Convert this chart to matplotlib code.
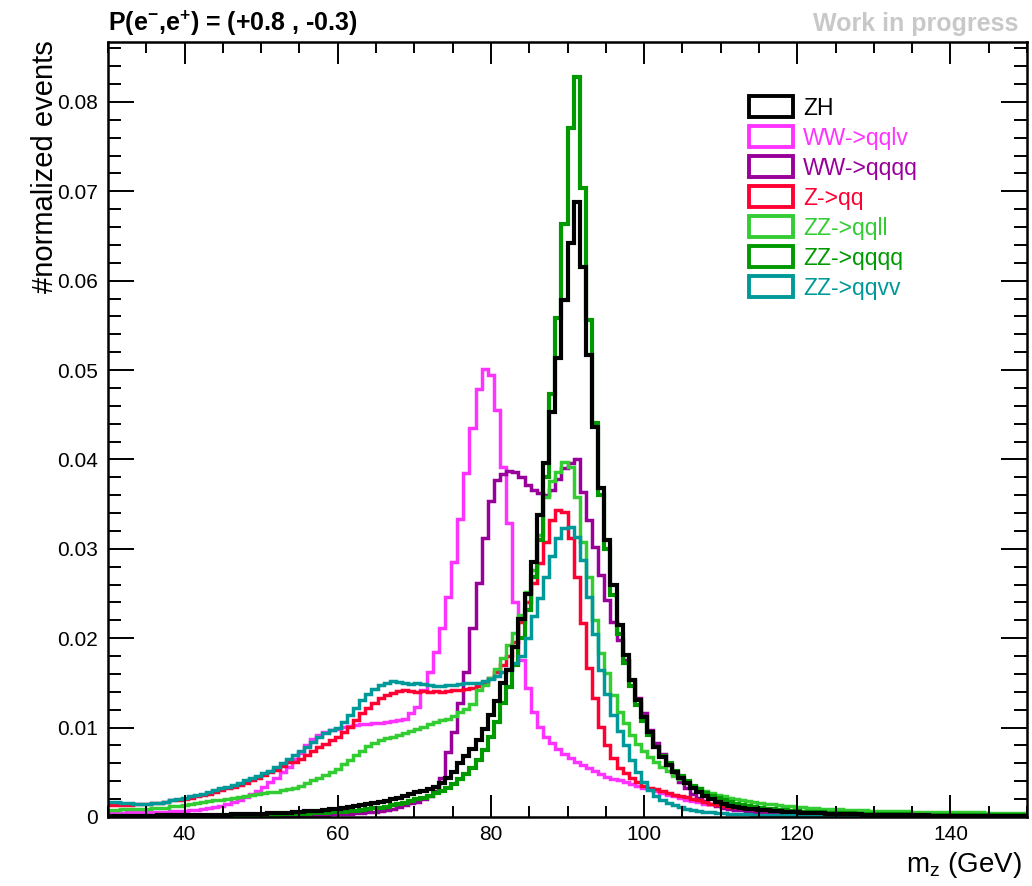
import numpy as np
import matplotlib
matplotlib.use("Agg")
import matplotlib.pyplot as plt
from matplotlib.patches import Rectangle
from matplotlib.ticker import MultipleLocator, FuncFormatter

plt.rcParams['font.family'] = ['Liberation Sans', 'DejaVu Sans']
plt.rcParams['mathtext.fontset'] = 'custom'
plt.rcParams['mathtext.rm'] = 'Liberation Sans'
plt.rcParams['mathtext.it'] = 'Liberation Sans:italic'
plt.rcParams['mathtext.bf'] = 'Liberation Sans:bold'

# binning: 150 bins of 0.8 GeV between 30 and 150
edges = np.linspace(30, 150, 151)

# bin contents in units of 1e-4
zh = [
    1.2, 1.2, 1.3, 1.3, 1.4, 1.4, 1.5, 1.6, 1.7, 1.8,
    1.9, 2.0, 2.0, 2.1, 2.2, 2.3, 2.4, 2.5, 2.6, 2.7,
    2.8, 3.0, 3.2, 3.4, 3.6, 3.9, 4.1, 4.4, 4.7, 5.0,
    5.4, 5.8, 6.2, 6.7, 7.2, 7.8, 8.4, 9.1, 9.9, 10.7,
    11.8, 12.9, 14.1, 15.4, 16.8, 18.3, 19.9, 21.7, 23.6, 25.6,
    27.6, 29.6, 31.8, 34.0, 38.5, 44, 50, 60, 68, 76,
    86, 98, 114, 130, 150, 165, 190, 222, 250, 285,
    338, 396, 453, 514, 578, 642, 688, 615, 517, 436,
    368, 310, 260, 215, 181, 153, 131, 112, 95, 78,
    67, 58, 50, 44, 38, 33, 28, 24, 20, 17,
    14.5, 12.5, 11.2, 10.2, 9.4, 8.7, 8.0, 7.4, 6.9, 6.4,
    6.0, 5.6, 5.2, 4.9, 4.6, 4.3, 4.0, 3.8, 3.6, 3.4,
    3.2, 3.0, 2.9, 2.7, 2.6, 2.4, 2.3, 2.2, 2.1, 2.0,
    1.9, 1.8, 1.7, 1.7, 1.6, 1.5, 1.5, 1.4, 1.4, 1.3,
    1.3, 1.2, 1.2, 1.1, 1.1, 1.0, 1.0, 1.0, 0.9, 0.9,
]
ww_qqlv = [
    5.0, 5.0, 5.0, 5.1, 5.1, 5.2, 5.3, 5.4, 5.5, 5.6,
    6.2, 6.6, 7.0, 7.6, 8.3, 9.2, 10.2, 11.4, 12.8, 14.5,
    16.5, 19, 22, 25.5, 29.5, 34, 39, 44, 50, 56,
    65, 72, 80, 87, 92, 95, 97, 99, 101, 102,
    103, 104, 104, 105, 105, 106, 107, 108, 110, 116,
    123, 142, 162, 185, 211, 246, 285, 333, 385, 435,
    479, 501, 494, 455, 392, 329, 240, 176, 144, 118,
    101, 90, 83, 76, 71, 66, 62, 58, 55, 52,
    48, 45, 43, 41, 39, 37, 35, 33, 31, 29,
    27, 25, 23, 21, 19.5, 18, 16.5, 15, 14, 13,
    12, 11, 10.3, 9.6, 9.0, 8.4, 7.9, 7.4, 7.0, 6.6,
    6.2, 5.9, 5.6, 5.3, 5.0, 4.8, 4.6, 4.4, 4.2, 4.0,
    3.8, 3.7, 3.5, 3.4, 3.3, 3.2, 3.1, 3.0, 2.9, 2.8,
    2.7, 2.6, 2.5, 2.5, 2.4, 2.3, 2.3, 2.2, 2.2, 2.1,
    2.1, 2.0, 2.0, 1.9, 1.9, 1.8, 1.8, 1.8, 1.7, 1.7,
]
ww_qqqq = [
    0.3, 0.3, 0.3, 0.3, 0.3, 0.4, 0.4, 0.4, 0.4, 0.4,
    0.5, 0.5, 0.5, 0.6, 0.6, 0.6, 0.7, 0.7, 0.8, 0.8,
    0.9, 0.9, 1.0, 1.1, 1.1, 1.2, 1.3, 1.4, 1.5, 1.6,
    1.7, 1.8, 2.0, 2.2, 2.4, 2.6, 2.9, 3.2, 3.5, 3.9,
    4.3, 4.8, 5.4, 6.1, 7.0, 8.0, 9.3, 11, 13, 15.5,
    17, 20, 24, 29, 44, 73, 95, 127, 162, 211,
    262, 312, 353, 377, 384, 387, 386, 380, 371, 366,
    363, 360, 366, 378, 390, 396, 400, 364, 332, 302,
    271, 243, 218, 198, 176, 153, 133, 116, 97, 83,
    70, 58, 48, 39, 32, 26, 21, 17.5, 14.5, 12,
    10.5, 9.2, 8.2, 7.3, 6.6, 6.0, 5.4, 4.9, 4.5, 4.1,
    3.8, 3.5, 3.2, 3.0, 2.8, 2.6, 2.4, 2.2, 2.1, 2.0,
    1.9, 1.8, 1.7, 1.6, 1.5, 1.4, 1.4, 1.3, 1.2, 1.2,
    1.1, 1.1, 1.0, 1.0, 1.0, 0.9, 0.9, 0.9, 0.8, 0.8,
    0.8, 0.8, 0.7, 0.7, 0.7, 0.7, 0.6, 0.6, 0.6, 0.6,
]
z_qq = [
    13, 13, 13, 13.5, 14, 14.5, 15, 15.5, 16, 17,
    18.5, 19.5, 20.5, 21.5, 23, 24.5, 26, 28, 30, 32,
    34, 36, 38.5, 41, 44, 47, 50, 53, 57, 61,
    62, 65, 69, 74, 78, 82, 86, 90, 95, 101,
    109, 116, 122, 128, 133, 136, 139, 141, 142, 141,
    140, 141, 140, 141, 140, 141, 142, 142, 143, 144,
    146, 150, 155, 162, 170, 180, 196, 218, 240, 262,
    284, 308, 332, 343, 341, 312, 268, 217, 167, 133,
    101, 80, 66, 55, 49, 44, 39, 35, 33, 31,
    29, 27, 25, 23.5, 22, 20.5, 18.5, 16.5, 15, 13.5,
    12.5, 11.5, 10.8, 10.2, 9.6, 9.0, 8.5, 8.0, 7.5, 7.0,
    6.6, 6.2, 5.8, 5.5, 5.2, 4.9, 4.6, 4.4, 4.2, 4.0,
    3.8, 3.6, 3.4, 3.3, 3.1, 3.0, 2.9, 2.8, 2.7, 2.6,
    2.5, 2.4, 2.3, 2.3, 2.2, 2.1, 2.1, 2.0, 2.0, 1.9,
    1.9, 1.8, 1.8, 1.7, 1.7, 1.7, 1.6, 1.6, 1.6, 1.5,
]
zz_qqll = [
    8, 8.2, 8.4, 8.6, 8.8, 9, 9.3, 9.6, 10, 10.4,
    12, 12.8, 13.6, 14.5, 15.5, 16.5, 17.5, 18.5, 19.5, 20.5,
    21.5, 22.5, 23.5, 24.5, 25.5, 26.5, 27.5, 28.5, 30, 31.5,
    33, 35, 38, 41, 44, 47, 50, 54, 59, 64,
    69, 74, 79, 83, 86, 88, 90, 92, 94, 96,
    99, 101, 104, 106, 108, 110, 113, 117, 121, 126,
    142, 148, 156, 166, 178, 192, 206, 226, 252, 276,
    316, 358, 376, 386, 397, 392, 358, 308, 268, 220,
    183, 161, 136, 117, 105, 92, 82, 74, 67, 61,
    56, 51, 46, 42, 38, 35, 32, 29, 27, 25,
    23, 21.5, 20, 18.8, 17.7, 16.7, 15.8, 15, 14.3, 13.6,
    12.5, 11.8, 11.2, 10.7, 10.2, 9.8, 9.4, 9.0, 8.7, 8.4,
    8.1, 7.9, 7.6, 7.4, 7.2, 7.0, 6.8, 6.6, 6.5, 6.3,
    6.2, 6.1, 6.0, 5.9, 5.8, 5.7, 5.6, 5.5, 5.4, 5.3,
    5.2, 5.1, 5.1, 5.0, 5.0, 4.9, 4.9, 4.8, 4.8, 4.7,
]
zz_qqqq = [
    0.6, 0.6, 0.6, 0.7, 0.7, 0.7, 0.8, 0.8, 0.9, 0.9,
    1.0, 1.0, 1.1, 1.1, 1.2, 1.3, 1.3, 1.4, 1.5, 1.6,
    1.7, 1.8, 1.9, 2.0, 2.2, 2.3, 2.5, 2.7, 2.9, 3.1,
    3.3, 3.5, 3.8, 4.1, 4.4, 4.8, 5.2, 5.6, 6.1, 6.6,
    7.2, 7.9, 8.7, 9.6, 10.6, 11.7, 13.0, 14.4, 16.0, 17.7,
    19.6, 21.7, 24.0, 26.6, 29.5, 33, 37, 42, 48, 55,
    64, 75, 89, 106, 127, 145, 170, 200, 232, 268,
    310, 380, 473, 558, 663, 771, 828, 704, 556, 441,
    360, 300, 248, 205, 172, 146, 125, 107, 92, 78,
    68, 60, 52, 46, 40, 35, 31, 27, 24, 21,
    18.5, 16.5, 14.7, 13.2, 12.0, 11.0, 10.0, 9.2, 8.5, 7.9,
    7.4, 6.9, 6.5, 6.1, 5.7, 5.4, 5.1, 4.8, 4.6, 4.4,
    4.2, 4.0, 3.8, 3.6, 3.5, 3.3, 3.2, 3.1, 3.0, 2.9,
    2.8, 2.7, 2.6, 2.5, 2.5, 2.4, 2.3, 2.3, 2.2, 2.2,
    2.1, 2.1, 2.0, 2.0, 1.9, 1.9, 1.9, 1.8, 1.8, 1.8,
]
zz_qqvv = [
    17, 16.5, 16, 15.5, 15, 15, 15, 15.5, 16, 17,
    18.5, 20, 21.5, 23, 24.5, 26, 28, 30, 32, 34,
    36, 38.5, 41, 43.5, 46, 49, 52, 56, 60, 65,
    69, 74, 78, 84, 89, 94, 97, 100, 106, 114,
    122, 131, 138, 143, 148, 150, 152, 151, 150, 149,
    150, 149, 148, 147, 147, 148, 148, 149, 150, 150,
    150, 152, 154, 158, 162, 166, 172, 180, 200, 225,
    245, 268, 292, 312, 323, 324, 313, 288, 246, 205,
    165, 138, 114, 96, 80, 64, 50, 39, 30, 24,
    19, 15.5, 13, 11, 9.5, 8.2, 7.0, 6.0, 5.2, 4.5,
    4.0, 3.6, 3.3, 3.0, 2.8, 2.6, 2.4, 2.2, 2.1, 2.0,
    1.9, 1.8, 1.7, 1.6, 1.5, 1.5, 1.4, 1.4, 1.3, 1.3,
    1.2, 1.2, 1.2, 1.1, 1.1, 1.1, 1.0, 1.0, 1.0, 1.0,
    0.9, 0.9, 0.9, 0.9, 0.9, 0.8, 0.8, 0.8, 0.8, 0.8,
    0.8, 0.8, 0.7, 0.7, 0.7, 0.7, 0.7, 0.7, 0.7, 0.7,
]

labels = ["ZH", "WW->qqlv", "WW->qqqq", "Z->qq", "ZZ->qqll", "ZZ->qqqq", "ZZ->qqvv"]
series = [zh, ww_qqlv, ww_qqqq, z_qq, zz_qqll, zz_qqqq, zz_qqvv]
colors = ["#000000", "#ff33ff", "#990099", "#ff0033", "#33cc33", "#009900", "#009999"]
widths = [3.0, 2.5, 2.5, 2.5, 2.5, 3.0, 2.5]

fig = plt.figure(figsize=(10.32, 8.86), dpi=100)
ax = fig.add_axes([108 / 1032, 69 / 886, 919 / 1032, 775 / 886])

# draw the others first, ZH on top
order = [1, 2, 3, 4, 5, 6, 0]
for i in order:
    vals = np.array(series[i]) * 1e-4
    ax.stairs(vals, edges, baseline=None, color=colors[i], lw=widths[i], joinstyle='miter')

ax.set_xlim(30, 150)
ax.set_ylim(0, 0.0867)

ax.xaxis.set_major_locator(MultipleLocator(20))
ax.xaxis.set_minor_locator(MultipleLocator(5))
ax.yaxis.set_major_locator(MultipleLocator(0.01))
ax.yaxis.set_minor_locator(MultipleLocator(0.002))
ax.yaxis.set_major_formatter(FuncFormatter(lambda v, p: "0" if abs(v) < 1e-9 else f"{v:.2f}"))

ax.tick_params(which='both', direction='in', top=True, right=True, width=1.4, labelsize=15)
ax.tick_params(axis='x', which='major', length=16, pad=6)
ax.tick_params(axis='x', which='minor', length=8)
ax.tick_params(axis='y', which='major', length=19, pad=7)
ax.tick_params(axis='y', which='minor', length=9.5)
for s in ax.spines.values():
    s.set_linewidth(1.8)

fig.text(0.044, (886 - 40) / 886, "#normalized events", rotation=90,
         ha='center', va='top', fontsize=21)
fig.text(1022 / 1032, (886 - 872) / 886, r"m$_{\mathrm{z}}$ (GeV)", ha='right', va='baseline',
         fontsize=20)
fig.text(108 / 1032, (886 - 31) / 886, r"P(e$^{\mathbf{-}}$,e$^{\mathbf{+}}$) = (+0.8 , -0.3)",
         ha='left', va='baseline', fontsize=18, fontweight='bold')
fig.text(1018 / 1032, (886 - 31) / 886, "Work in progress", ha='right', va='baseline',
         fontsize=18, fontweight='bold', color='#c8c8c8')

# legend drawn by hand: outlined boxes with coloured labels
box_y = [106, 136, 166.5, 196.5, 226, 256, 286]
for lab, col, yc in zip(labels, colors, box_y):
    fig.add_artist(Rectangle((749 / 1032, (886 - yc - 10.5) / 886), 44 / 1032, 21 / 886,
                             transform=fig.transFigure, fill=False, edgecolor=col, lw=2.8,
                             joinstyle='miter'))
    fig.text(803 / 1032, (886 - yc) / 886, lab, color=col, fontsize=16.5,
             ha='left', va='center_baseline')

fig.savefig("out.png", dpi=100)
